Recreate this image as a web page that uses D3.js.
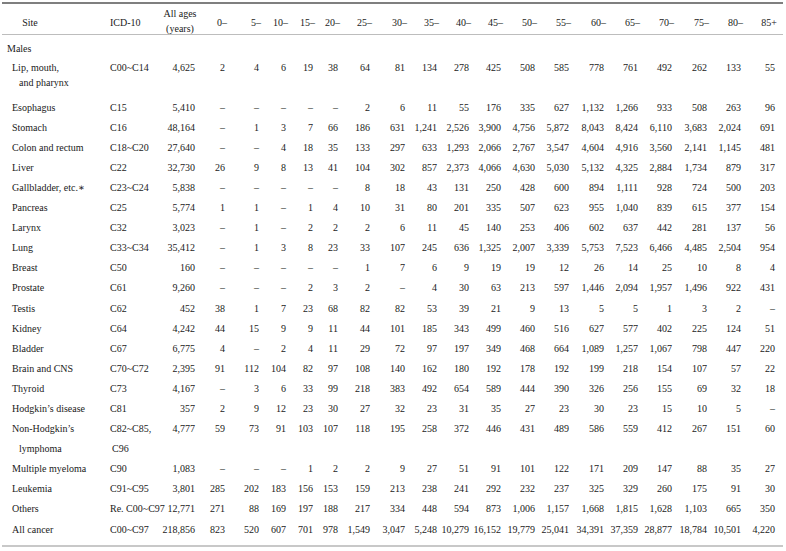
<!DOCTYPE html>
<html>
<head>
<meta charset="utf-8">
<script src="https://cdnjs.cloudflare.com/ajax/libs/d3/7.8.5/d3.min.js"></script>
<style>
  body { margin: 0; background: #fff; }
</style>
</head>
<body>
<div id="tbl"></div>
<script>
// ---- data ----
var ageGroups = ["0–","5–","10–","15–","20–","25–","30–","35–","40–","45–","50–","55–","60–","65–","70–","75–","80–","85+"];

var sites = [["Lip, mouth,", "and pharynx"], ["Esophagus"], ["Stomach"], ["Colon and rectum"], ["Liver"],
  ["Gallbladder, etc.∗"], ["Pancreas"], ["Larynx"], ["Lung"], ["Breast"], ["Prostate"], ["Testis"],
  ["Kidney"], ["Bladder"], ["Brain and CNS"], ["Thyroid"], ["Hodgkin’s disease"], ["Non-Hodgkin’s", "lymphoma"],
  ["Multiple myeloma"], ["Leukemia"], ["Others"], ["All cancer"]];

var icdCodes = [["C00~C14"], ["C15"], ["C16"], ["C18~C20"], ["C22"], ["C23~C24"], ["C25"], ["C32"],
  ["C33~C34"], ["C50"], ["C61"], ["C62"], ["C64"], ["C67"], ["C70~C72"], ["C73"], ["C81"], ["C82~C85,", "C96"],
  ["C90"], ["C91~C95"], ["Re. C00~C97"], ["C00~C97"]];

var allAges = [4625, 5410, 48164, 27640, 32730, 5838, 5774, 3023, 35412, 160, 9260, 452, 4242, 6775,
  2395, 4167, 357, 4777, 1083, 3801, 12771, 218856];

// null = "–"
var counts = [
  [2,4,6,19,38,64,81,134,278,425,508,585,778,761,492,262,133,55],
  [null,null,null,null,null,2,6,11,55,176,335,627,1132,1266,933,508,263,96],
  [null,1,3,7,66,186,631,1241,2526,3900,4756,5872,8043,8424,6110,3683,2024,691],
  [null,null,4,18,35,133,297,633,1293,2066,2767,3547,4604,4916,3560,2141,1145,481],
  [26,9,8,13,41,104,302,857,2373,4066,4630,5030,5132,4325,2884,1734,879,317],
  [null,null,null,null,null,8,18,43,131,250,428,600,894,1111,928,724,500,203],
  [1,1,null,1,4,10,31,80,201,335,507,623,955,1040,839,615,377,154],
  [null,1,null,2,2,2,6,11,45,140,253,406,602,637,442,281,137,56],
  [null,1,3,8,23,33,107,245,636,1325,2007,3339,5753,7523,6466,4485,2504,954],
  [null,null,null,null,null,1,7,6,9,19,19,12,26,14,25,10,8,4],
  [null,null,null,2,3,2,null,4,30,63,213,597,1446,2094,1957,1496,922,431],
  [38,1,7,23,68,82,82,53,39,21,9,13,5,5,1,3,2,null],
  [44,15,9,9,11,44,101,185,343,499,460,516,627,577,402,225,124,51],
  [4,null,2,4,11,29,72,97,197,349,468,664,1089,1257,1067,798,447,220],
  [91,112,104,82,97,108,140,162,180,192,178,192,199,218,154,107,57,22],
  [null,3,6,33,99,218,383,492,654,589,444,390,326,256,155,69,32,18],
  [2,9,12,23,30,27,32,23,31,35,27,23,30,23,15,10,5,null],
  [59,73,91,103,107,118,195,258,372,446,431,489,586,559,412,267,151,60],
  [null,null,null,1,2,2,9,27,51,91,101,122,171,209,147,88,35,27],
  [285,202,183,156,153,159,213,238,241,292,232,237,325,329,260,175,91,30],
  [271,88,169,197,188,217,334,448,594,873,1006,1157,1668,1815,1628,1103,665,350],
  [823,520,607,701,978,1549,3047,5248,10279,16152,19779,25041,34391,37359,28877,18784,10501,4220]
];

// ---- layout ----
var width = 786, height = 551;
var colRight = [225,259,286,313,338,370,405,437,469,501,535,569,604,638,672,707,741,775];
var allAgesRight = 195;

var svg = d3.select("#tbl").append("svg")
  .attr("width", width)
  .attr("height", height)
  .attr("font-family", "'Liberation Serif', 'Times New Roman', Tinos, 'DejaVu Serif', serif")
  .attr("font-size", 10)
  .attr("fill", "#1a1a1a");

var x = d3.scaleOrdinal().domain(ageGroups).range(colRight);

// rows: a wrapped row takes two slots
var slots = [], s = 0;
sites.forEach(function(d) { slots.push(s); s += d.length; });
var y = d3.scaleLinear().domain([0, slots[slots.length - 1]]).range([67, 529]);
var wrapGap = [15, 20];   // second-line offset for the two wrapped rows

var fmt = d3.format(",");

// rules
svg.append("line").attr("x1", 2).attr("x2", 783).attr("y1", 3).attr("y2", 3)
  .attr("stroke", "#555").attr("stroke-width", 1.6);
svg.append("line").attr("x1", 2).attr("x2", 783).attr("y1", 34.5).attr("y2", 34.5)
  .attr("stroke", "#bdbdbd").attr("stroke-width", 1);
svg.append("line").attr("x1", 2).attr("x2", 783).attr("y1", 546).attr("y2", 546)
  .attr("stroke", "#c8c8c8").attr("stroke-width", 2);

// header
var head = svg.append("g").attr("class", "head");
head.append("text").attr("x", 30).attr("y", 22).attr("text-anchor", "middle")
  .attr("dominant-baseline", "central").text("Site");
head.append("text").attr("x", 110).attr("y", 22)
  .attr("dominant-baseline", "central").text("ICD-10");
head.append("text").attr("x", 180).attr("y", 13).attr("text-anchor", "middle")
  .attr("dominant-baseline", "central").text("All ages");
head.append("text").attr("x", 180).attr("y", 28).attr("text-anchor", "middle")
  .attr("dominant-baseline", "central").text("(years)");
head.selectAll(".age").data(ageGroups).enter().append("text")
  .attr("class", "age")
  .attr("x", function(d) { return x(d) + 2; })
  .attr("y", 22)
  .attr("text-anchor", "end")
  .attr("dominant-baseline", "central")
  .text(function(d) { return d; });

svg.append("text").attr("x", 7).attr("y", y(-0.93))
  .attr("dominant-baseline", "central").text("Males");

// body rows
var rows = svg.selectAll(".row").data(sites).enter().append("g")
  .attr("class", "row")
  .attr("transform", function(d, i) { return "translate(0," + y(slots[i]) + ")"; });

var wi = 0;
rows.each(function(d, i) {
  var g = d3.select(this);
  var gap = d.length > 1 ? wrapGap[wi++] : 0;
  d.forEach(function(t, k) {
    g.append("text").attr("x", k ? 19 : 12).attr("y", k * gap)
      .attr("dominant-baseline", "central").text(t);
  });
  icdCodes[i].forEach(function(t, k) {
    g.append("text").attr("x", k ? 112 : 110).attr("y", k * gap)
      .attr("dominant-baseline", "central").text(t);
  });
  g.append("text").attr("x", allAgesRight).attr("text-anchor", "end")
    .attr("dominant-baseline", "central").text(fmt(allAges[i]));
  g.selectAll(".v").data(counts[i]).enter().append("text")
    .attr("class", "v")
    .attr("x", function(v, j) { return x(ageGroups[j]); })
    .attr("text-anchor", "end")
    .attr("dominant-baseline", "central")
    .text(function(v) { return v == null ? "–" : fmt(v); });
});
</script>
</body>
</html>
